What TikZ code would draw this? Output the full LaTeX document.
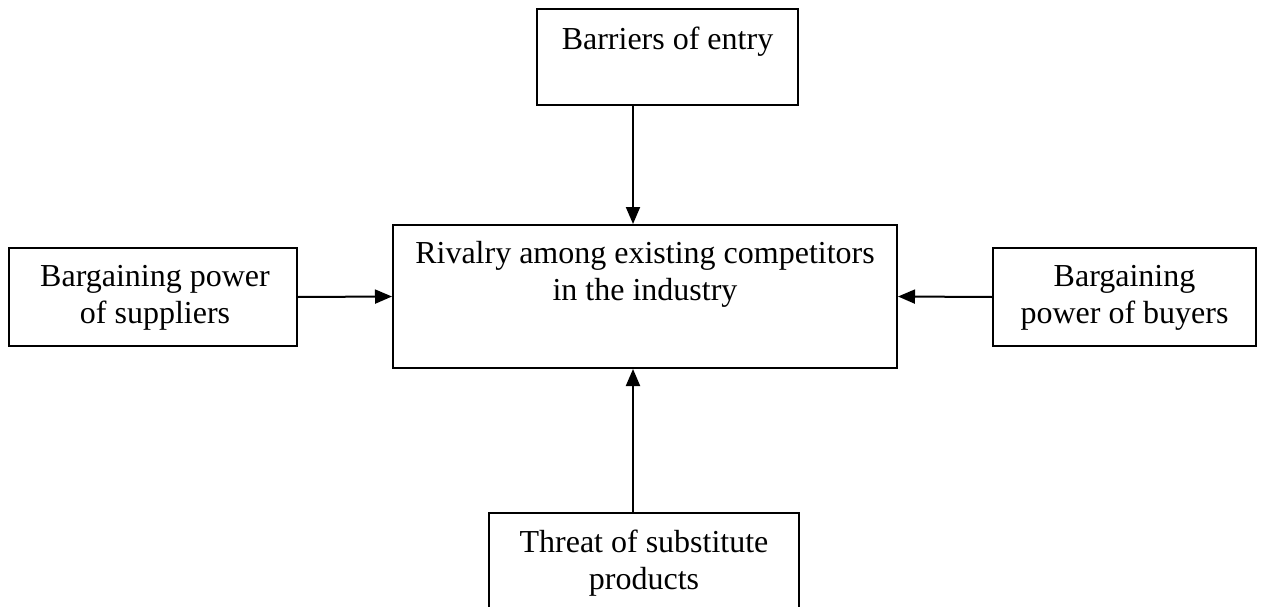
\documentclass[tikz,border=0pt]{standalone}
\usepackage{fontspec}
\setmainfont{Liberation Serif}
\usetikzlibrary{arrows.meta}
\begin{document}
\begin{tikzpicture}[x=1pt,y=-1pt,
  box/.style={draw=black,line width=2pt,rectangle,inner sep=0pt},
  txt/.style={inner sep=0pt,anchor=base,font=\fontsize{32}{37}\selectfont},
  arr/.style={line width=2pt,-{Triangle[length=17pt,width=14pt]}}]
\useasboundingbox (0,0) rectangle (1261,607);
\fill[white] (0,0) rectangle (1261,607);
% boxes
\node[box,minimum width=261pt,minimum height=96pt] (entry) at (667.5,57) {};
\node[box,minimum width=504pt,minimum height=143pt] (rivalry) at (645,296.5) {};
\node[box,minimum width=288pt,minimum height=98pt] (suppliers) at (153,297) {};
\node[box,minimum width=263pt,minimum height=98pt] (buyers) at (1124.5,297) {};
\node[box,minimum width=310pt,minimum height=96pt] (subst) at (644,561) {};
% texts
\node[txt] (t1) at (667.5,50) {Barriers of entry};
\node[txt] (t2) at (645,263) {Rivalry among existing competitors};
\node[txt] (t3) at (645,300) {in the industry};
\node[txt] (t4) at (155,286) {Bargaining power};
\node[txt] (t5) at (155,323) {of suppliers};
\node[txt] (t6) at (1124.5,286) {Bargaining};
\node[txt] (t7) at (1124.5,323) {power of buyers};
\node[txt] (t8) at (644,552) {Threat of substitute};
\node[txt] (t9) at (644,589) {products};
% connectors
\coordinate (ax) at (633,0);
\draw[arr] (entry.south -| ax) -- (rivalry.north -| ax);
\draw[arr] (subst.north -| ax) -- (rivalry.south -| ax);
\draw[arr] (suppliers.east) -- (rivalry.west);
\draw[arr] (buyers.west) -- (rivalry.east);
\end{tikzpicture}
\end{document}
